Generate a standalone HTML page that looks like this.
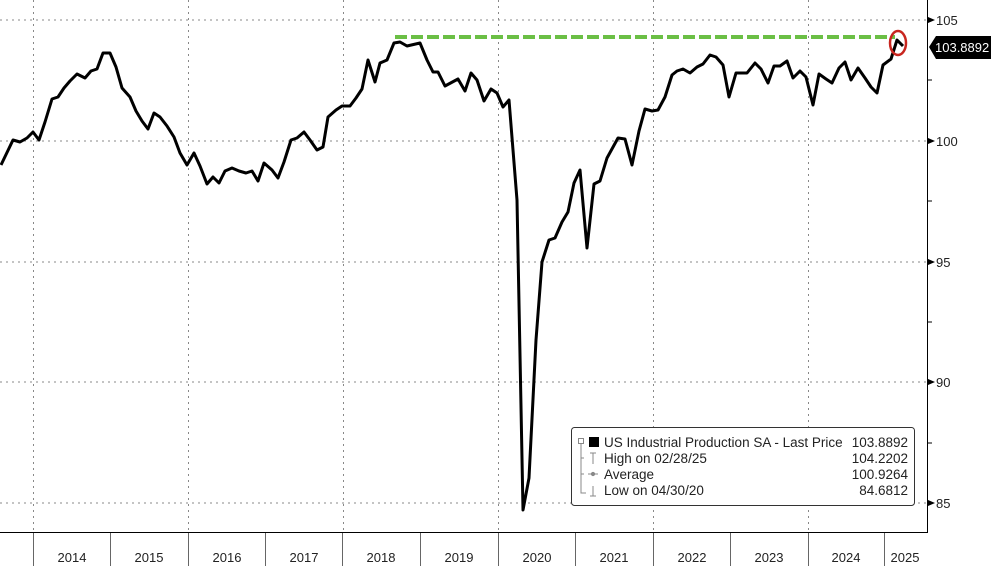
<!DOCTYPE html>
<html><head><meta charset="utf-8"><style>
body{margin:0;background:#fff;}
svg{display:block;font-family:"Liberation Sans",sans-serif;}
</style></head><body>
<svg width="991" height="566" viewBox="0 0 991 566">
<rect width="991" height="566" fill="#fff"/>
<g stroke="#888" stroke-width="1" stroke-dasharray="2,4">
<line x1="0" y1="20" x2="927" y2="20"/>
<line x1="0" y1="141" x2="927" y2="141"/>
<line x1="0" y1="262" x2="927" y2="262"/>
<line x1="0" y1="382" x2="927" y2="382"/>
<line x1="0" y1="503" x2="927" y2="503"/>
<line x1="33.5" y1="0" x2="33.5" y2="532"/>
<line x1="188.5" y1="0" x2="188.5" y2="532"/>
<line x1="343.5" y1="0" x2="343.5" y2="532"/>
<line x1="498.5" y1="0" x2="498.5" y2="532"/>
<line x1="653.5" y1="0" x2="653.5" y2="532"/>
<line x1="808.5" y1="0" x2="808.5" y2="532"/>
</g>
<line x1="927.5" y1="0" x2="927.5" y2="532" stroke="#000"/>
<line x1="0" y1="532.5" x2="928" y2="532.5" stroke="#000"/>
<g stroke="#666">
<line x1="33.5" y1="533" x2="33.5" y2="566"/><line x1="110.5" y1="533" x2="110.5" y2="566"/>
<line x1="188.5" y1="533" x2="188.5" y2="566"/><line x1="265.5" y1="533" x2="265.5" y2="566"/>
<line x1="342.5" y1="533" x2="342.5" y2="566"/><line x1="420.5" y1="533" x2="420.5" y2="566"/>
<line x1="498.5" y1="533" x2="498.5" y2="566"/><line x1="575.5" y1="533" x2="575.5" y2="566"/>
<line x1="653.5" y1="533" x2="653.5" y2="566"/><line x1="730.5" y1="533" x2="730.5" y2="566"/>
<line x1="808.5" y1="533" x2="808.5" y2="566"/><line x1="884.5" y1="533" x2="884.5" y2="566"/>
</g>
<g font-size="13" fill="#222" text-anchor="middle">
<text x="72" y="562">2014</text><text x="149" y="562">2015</text><text x="227" y="562">2016</text>
<text x="304" y="562">2017</text><text x="381" y="562">2018</text><text x="459" y="562">2019</text>
<text x="537" y="562">2020</text><text x="614" y="562">2021</text><text x="692" y="562">2022</text>
<text x="769" y="562">2023</text><text x="846" y="562">2024</text><text x="905" y="562">2025</text>
</g>
<g stroke="#000"><line x1="928" y1="80" x2="932" y2="80"/><line x1="928" y1="201" x2="932" y2="201"/><line x1="928" y1="322" x2="932" y2="322"/><line x1="928" y1="443" x2="932" y2="443"/></g>
<g fill="#000">
<polygon points="928,17 935,20 928,23"/><polygon points="928,138 935,141 928,144"/><polygon points="928,259 935,262 928,265"/><polygon points="928,379 935,382 928,385"/><polygon points="928,500 935,503 928,506"/>
</g>
<g font-size="13" fill="#222">
<text x="936" y="25">105</text><text x="936" y="146">100</text><text x="936" y="267">95</text><text x="936" y="387">90</text><text x="936" y="508">85</text>
</g>
<polygon points="929,47 936,36 991,36 991,59 936,59" fill="#000"/>
<text x="935" y="52" font-size="13" fill="#fff">103.8892</text>
<line x1="395" y1="37" x2="895" y2="37" stroke="#6bbf45" stroke-width="4" stroke-dasharray="12,4"/>
<polyline fill="none" stroke="#000" stroke-width="3" stroke-linejoin="round" points="1,165 13,140 20,142 27,138 33,132 39,140 45,122 52,99 58,97 64,88 70,81 77,74 85,78 91,71 97,69 103,53 110,53 116,67 122,88 130,97 136,111 142,121 148,129 154,113 160,117 167,126 174,137 180,153 187,165 194,153 200,166 207,184 213,177 219,183 225,171 232,168 239,171 246,173 252,171 258,181 264,163 272,170 278,178 284,162 291,140 297,138 304,132 310,140 317,150 323,147 328,117 336,110 342,106 350,106 356,98 362,89 368,60 375,82 380,63 387,60 394,43 400,42 407,46 420,43 427,60 433,72 438,72 445,86 458,79 465,91 471,73 477,80 484,101 491,89 497,93 503,107 509,100 517,200 523,510 529,478 536,340 542,262 549,240 555,238 562,222 568,212 574,183 580,170 587,248 594,184 600,181 607,158 618,138 625,139 632,165 639,131 645,109 652,111 658,110 665,97 672,75 677,71 683,69 690,73 697,67 703,64 710,55 716,57 723,65 729,97 736,73 747,73 755,63 761,69 768,83 774,66 780,66 787,61 793,78 800,71 806,77 813,105 819,74 826,79 832,83 839,68 845,62 851,80 858,68 865,78 871,87 877,93 883,65 891,59 897,40 903,46"/>
<ellipse cx="898" cy="43" rx="8" ry="12" fill="none" stroke="#c8261f" stroke-width="2.5"/>
<rect x="571.5" y="427.5" width="343" height="78" rx="3" fill="#fff" stroke="#333"/>
<g stroke="#888" fill="none">
<rect x="578.5" y="438.5" width="5" height="5"/>
<path d="M581 444 V493 H586 M581 458 H584 M581 474 H584"/>
</g>
<rect x="589" y="437" width="10" height="10" fill="#000"/>
<g stroke="#888"><path d="M590 453 H596 M593 453 V464 M588 474 H598 M590 496 H596 M593 486 V496" fill="none"/><circle cx="593" cy="474" r="1.6" fill="#888"/></g>
<g font-size="13.5" fill="#222">
<text x="604" y="447">US Industrial Production SA - Last Price</text>
<text x="604" y="463">High on 02/28/25</text>
<text x="604" y="479">Average</text>
<text x="604" y="495">Low on 04/30/20</text>
</g>
<g font-size="13.5" fill="#222" text-anchor="end">
<text x="908" y="447">103.8892</text><text x="908" y="463">104.2202</text><text x="908" y="479">100.9264</text><text x="908" y="495">84.6812</text>
</g>
</svg>
</body></html>
